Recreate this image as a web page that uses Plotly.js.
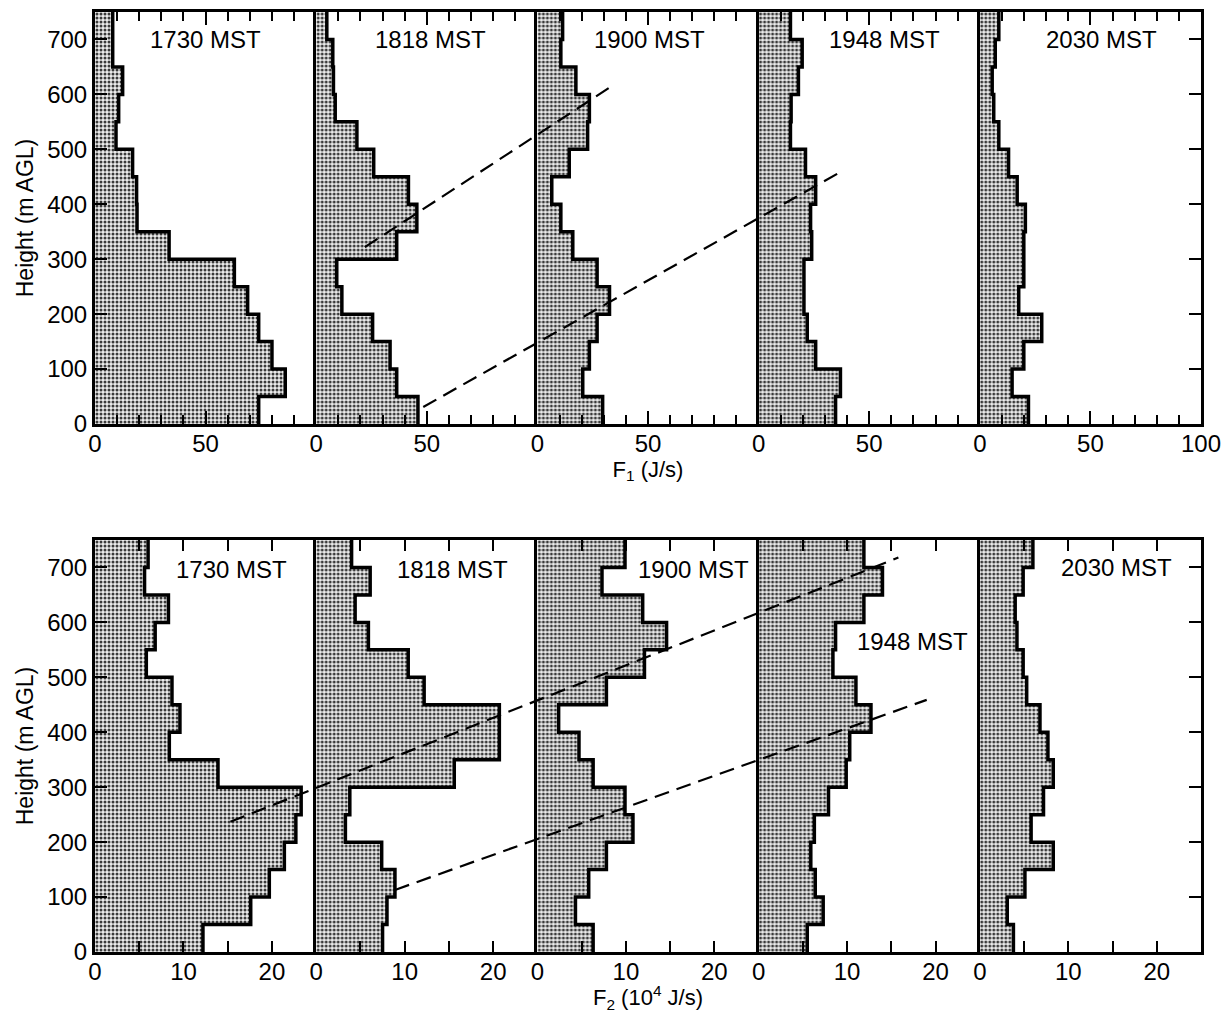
<!DOCTYPE html>
<html>
<head>
<meta charset="utf-8">
<script src="https://cdn.plot.ly/plotly-3.0.1.min.js"></script>
<style>html,body{margin:0;padding:0;background:#fff;}#chart{width:1224px;height:1013px;}</style>
</head>
<body>
<div id="chart"></div>
<script>
// ---- data ----
const times = ['1730 MST', '1818 MST', '1900 MST', '1948 MST', '2030 MST'];
const heights = [0, 50, 100, 150, 200, 250, 300, 350, 400, 450, 500, 550, 600, 650, 700, 750];

// F1 (J/s), one value per 50 m layer, from the ground up
const f1_1730 = [74, 86, 80, 74, 69, 63, 33.5, 19, 18.8, 17, 9.5, 10.7, 12.5, 8, 8];
const f1_1818 = [46, 36.4, 33.4, 25.5, 11.6, 9.3, 36.4, 45.5, 41.7, 26, 18.4, 8.6, 7.8, 7.5, 4.8];
const f1_1900 = [29.5, 20.5, 23.5, 27, 32.6, 27, 16, 10.6, 6.5, 14.4, 22.7, 23.5, 17.4, 10.6, 11.4];
const f1_1948 = [34.8, 37, 25.8, 22, 20.5, 20.5, 24, 23.5, 25.8, 21.2, 14.4, 14.7, 18, 19.7, 14.4];
const f1_2030 = [22, 14.6, 19.9, 28, 17.6, 19.9, 19.9, 20.6, 16.9, 13, 8.6, 6.3, 5.6, 7, 8.6];

// F2 (10^4 J/s)
const f2_1730 = [12.2, 17.6, 19.7, 21.4, 22.7, 23.3, 13.9, 8.4, 9.6, 8.7, 5.8, 6.8, 8.3, 5.6, 6.0];
const f2_1818 = [7.5, 8.0, 8.9, 7.4, 3.3, 3.8, 15.6, 20.7, 20.7, 12.2, 10.4, 5.9, 4.4, 6.1, 4.0];
const f2_1900 = [6.3, 4.3, 5.8, 7.8, 10.8, 9.9, 6.3, 4.7, 2.4, 7.8, 12.1, 14.6, 11.9, 7.3, 9.9];
const f2_1948 = [5.5, 7.3, 6.4, 5.9, 6.3, 7.9, 9.9, 10.3, 12.7, 11.0, 8.4, 8.7, 11.9, 14, 11.9];
const f2_2030 = [3.8, 3.1, 5.1, 8.3, 5.8, 7.2, 8.3, 7.7, 6.8, 5.3, 4.9, 4.2, 4.0, 4.9, 6.0];

// dashed guide lines: [panel index, value, height] for start and end
const dashF1a = {panel: [1, 2], value: [22, 34], height: [322, 616]};
const dashF1b = {panel: [1, 3], value: [48.4, 38], height: [31, 461]};
const dashF2a = {panel: [0, 3], value: [15.3, 15.8], height: [237, 718]};
const dashF2b = {panel: [1, 3], value: [8.9, 19], height: [113, 459]};

// tick values
const f1Ticks = [0, 50];
const f1TicksLast = [0, 50, 100];
const f1Minor = [10, 20, 30, 40, 60, 70, 80, 90];
const f2Ticks = [0, 10, 20];
const f2Minor = [5, 15];
const hTicks = [0, 100, 200, 300, 400, 500, 600, 700];

// ---- build ----
const FONT = 'Liberation Sans, Arial, Helvetica, sans-serif';
const rows = [
  {series: [f1_1730, f1_1818, f1_1900, f1_1948, f1_2030], width: 100, ticks: f1Ticks, ticksLast: f1TicksLast, minor: f1Minor,
   domain: [0.5617, 1], title: 'F<sub>1</sub> (J/s)', dashes: [dashF1a, dashF1b]},
  {series: [f2_1730, f2_1818, f2_1900, f2_1948, f2_2030], width: 25, ticks: f2Ticks, ticksLast: f2Ticks, minor: f2Minor,
   domain: [0, 0.4383], title: 'F<sub>2</sub> (10<sup>4</sup> J/s)', dashes: [dashF2a, dashF2b]}
];
const labelPos = [
  [[50, 700], [51.5, 700], [50.7, 700], [57, 700], [55, 700]],
  [[15.4, 696], [15.4, 696], [17.6, 696], [17.4, 565], [15.4, 700]]
];

const traces = [];
const layout = {
  width: 1224, height: 1013,
  margin: {l: 95, r: 23, t: 12, b: 61},
  paper_bgcolor: '#ffffff', plot_bgcolor: 'rgba(0,0,0,0)',
  showlegend: false,
  font: {family: FONT, size: 24, color: '#000'},
  annotations: []
};

rows.forEach((row, r) => {
  row.series.forEach((vals, p) => {
    const n = r * 5 + p + 1;
    const xa = n === 1 ? 'x' : 'x' + n;
    const ya = n === 1 ? 'y' : 'y' + n;
    traces.push({
      type: 'scatter', mode: 'lines', xaxis: xa, yaxis: ya,
      x: vals.concat([vals[vals.length - 1]]),
      y: heights,
      line: {shape: 'vh', color: '#000', width: 3.5},
      fill: 'tozerox',
      fillcolor: '#d8d8d8',
      fillpattern: {shape: '.', bgcolor: '#ececec', fgcolor: '#3a3a3a', size: 4, solidity: 0.45},
      hoverinfo: 'skip'
    });
    const xKey = n === 1 ? 'xaxis' : 'xaxis' + n;
    const yKey = n === 1 ? 'yaxis' : 'yaxis' + n;
    layout[xKey] = {
      domain: [p / 5, (p + 1) / 5], anchor: ya, range: [0, row.width],
      showline: true, linewidth: 3, linecolor: '#000', mirror: 'ticks',
      ticks: 'inside', ticklen: r === 0 ? 13 : 11, tickwidth: 2, tickcolor: '#000',
      tickmode: 'array', tickvals: p === 4 ? row.ticksLast : row.ticks,
      ticklabelstandoff: -4,
      minor: {ticks: 'inside', ticklen: r === 0 ? 9 : 11, tickwidth: 2, tickcolor: '#000', tickmode: 'array', tickvals: row.minor},
      showgrid: false, zeroline: false, fixedrange: true,
      tickfont: {size: 24, family: FONT}
    };
    if (p === 2) {
      layout[xKey].title = {text: row.title, font: {size: 22, family: FONT}, standoff: 4};
    }
    const y = {
      domain: row.domain, anchor: xa, range: [0, 750],
      showline: true, linewidth: 3, linecolor: '#000',
      showgrid: false, zeroline: false, fixedrange: true
    };
    if (p === 0) {
      Object.assign(y, {
        ticks: 'inside', ticklen: 12, tickwidth: 2, tickcolor: '#000',
        tickmode: 'array', tickvals: hTicks, tickfont: {size: 24, family: FONT},
        title: {text: 'Height (m AGL)', font: {size: 23, family: FONT}, standoff: 8}
      });
    } else {
      Object.assign(y, {ticks: '', showticklabels: false});
    }
    layout[yKey] = y;

    layout.annotations.push({
      xref: xa, yref: ya, x: labelPos[r][p][0], y: labelPos[r][p][1],
      text: times[p], showarrow: false, font: {size: 24, family: FONT, color: '#000'},
      xanchor: 'center', yanchor: 'middle'
    });
  });

  // right-side frame with ticks
  const rightKey = 'yaxis' + (11 + r);
  const lastY = 'y' + (r * 5 + 5);
  layout[rightKey] = {
    overlaying: lastY, side: 'right', anchor: 'x' + (r * 5 + 5), range: [0, 750],
    showline: true, linewidth: 3, linecolor: '#000',
    ticks: 'inside', ticklen: 12, tickwidth: 2, tickcolor: '#000',
    tickmode: 'array', tickvals: hTicks, showticklabels: false,
    showgrid: false, zeroline: false, fixedrange: true
  };
  traces.push({type: 'scatter', mode: 'lines', xaxis: 'x' + (r * 5 + 5), yaxis: 'y' + (11 + r),
    x: [null], y: [null], hoverinfo: 'skip'});

  // full-width overlay axis for the dashed guide lines
  const ovKey = 'xaxis' + (13 + r);
  const rowY = r === 0 ? 'y' : 'y6';
  layout[ovKey] = {domain: [0, 1], anchor: rowY, range: [0, row.width * 5], visible: false, fixedrange: true};
  row.dashes.forEach(d => {
    traces.push({
      type: 'scatter', mode: 'lines', xaxis: 'x' + (13 + r), yaxis: rowY,
      x: d.panel.map((pp, i) => pp * row.width + d.value[i]),
      y: d.height,
      line: {color: '#000', width: 2.2, dash: '15px,8px'},
      hoverinfo: 'skip'
    });
  });
});

Plotly.newPlot('chart', traces, layout, {staticPlot: true, displayModeBar: false});
</script>
</body>
</html>
